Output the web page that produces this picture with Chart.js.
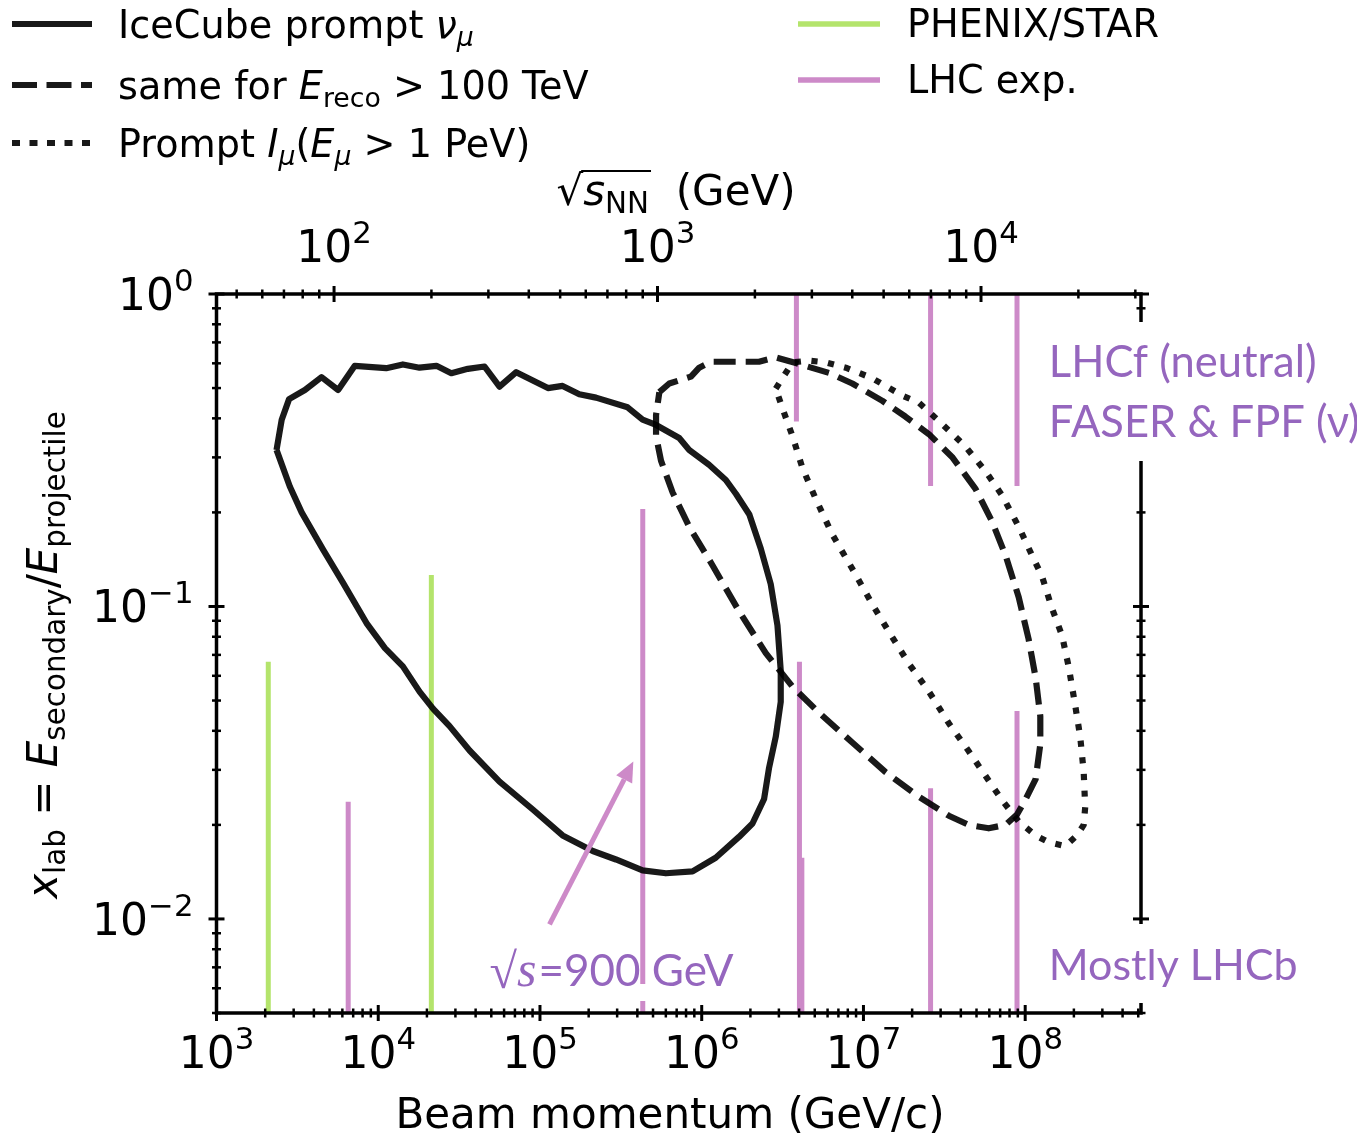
<!DOCTYPE html>
<html>
<head>
<meta charset="utf-8">
<script src="https://cdn.jsdelivr.net/npm/chart.js@4.4.1/dist/chart.umd.min.js"></script>
<style>
  html, body { margin: 0; padding: 0; background: #fff; }
  canvas { display: block; }
</style>
</head>
<body>
<canvas id="myChart" width="1357" height="1136"></canvas>
<script>
const ctx = document.getElementById('myChart').getContext('2d')

const M_P = 0.938 // proton mass in GeV, fixed target: sqrt(s) = sqrt(2 m p)
const toSqrtS = p => Math.sqrt(2 * M_P * p)

// axis ranges and ticks
const pRange = [1e3, 5.2e8]
const xlabRange = [0.005, 1]
const pTicks = [1e3, 1e4, 1e5, 1e6, 1e7, 1e8]
const pTickExp = ['3', '4', '5', '6', '7', '8']
const xlabTicks = [1, 0.1, 0.01]
const xlabTickExp = ['0', '\u22121', '\u22122']
const sTicks = [1e2, 1e3, 1e4]
const sTickExp = ['2', '3', '4']

// IceCube prompt nu_mu contour (beam momentum GeV/c, x_lab)
const icecubeP = [2350, 2530, 2810, 3520, 4460, 5650, 7160, 11200, 14200, 18000, 22900, 28300, 35800, 45400, 56200, 71300, 112000, 138000, 175000, 222000, 348000, 431000, 522000, 726000, 837000, 1.11e6, 1.41e6, 1.63e6, 1.97e6, 2.32e6, 2.67e6, 2.94e6, 3.08e6, 3.08e6, 2.87e6, 2.61e6, 2.43e6, 2.06e6, 1.70e6, 1.22e6, 878000, 601000, 431000, 295000, 212000, 138000, 90300, 56200, 36700, 27600, 21800, 18000, 14200, 11000, 8460, 6060, 4560, 3360, 2840, 2350]
const icecubeX = [0.317, 0.396, 0.461, 0.493, 0.542, 0.493, 0.589, 0.579, 0.595, 0.581, 0.589, 0.558, 0.576, 0.586, 0.505, 0.562, 0.500, 0.508, 0.478, 0.466, 0.434, 0.396, 0.381, 0.346, 0.317, 0.284, 0.254, 0.229, 0.197, 0.153, 0.118, 0.0869, 0.0623, 0.0495, 0.0383, 0.0305, 0.0242, 0.0202, 0.0183, 0.0157, 0.0142, 0.0140, 0.0143, 0.0155, 0.0165, 0.0185, 0.0224, 0.0275, 0.0346, 0.0414, 0.0471, 0.0534, 0.0643, 0.0736, 0.0885, 0.119, 0.152, 0.200, 0.242, 0.317]

// same, E_reco > 100 TeV
const recoP = [547000, 630000, 858000, 965000, 1.14e6, 2.26e6, 2.87e6, 3.82e6, 6.12e6, 8.53e6, 1.31e7, 1.82e7, 2.54e7, 3.53e7, 4.93e7, 6.24e7, 7.55e7, 9.12e7, 1.05e8, 1.16e8, 1.24e8, 1.24e8, 1.16e8, 1.00e8, 8.90e7, 7.55e7, 5.95e7, 4.48e7, 3.37e7, 2.20e7, 1.37e7, 8.53e6, 5.31e6, 3.64e6, 2.49e6, 1.70e6, 1.17e6, 837000, 660000, 560000, 522000, 522000, 547000]
const recoX = [0.485, 0.517, 0.544, 0.581, 0.607, 0.607, 0.627, 0.601, 0.559, 0.517, 0.455, 0.405, 0.356, 0.301, 0.238, 0.187, 0.146, 0.107, 0.0786, 0.0592, 0.0445, 0.0362, 0.0280, 0.0240, 0.0216, 0.0200, 0.0195, 0.0200, 0.0214, 0.0246, 0.0295, 0.0367, 0.0457, 0.0554, 0.0709, 0.0966, 0.135, 0.180, 0.232, 0.293, 0.351, 0.410, 0.485]

// prompt muon flux above 1 PeV
const muonP = [2.87e6, 3.64e6, 4.61e6, 5.85e6, 7.77e6, 1.13e7, 1.74e7, 2.20e7, 3.06e7, 4.27e7, 5.68e7, 7.19e7, 9.12e7, 1.10e8, 1.27e8, 1.46e8, 1.69e8, 1.86e8, 2.04e8, 2.19e8, 2.30e8, 2.35e8, 2.30e8, 2.09e8, 1.77e8, 1.40e8, 1.16e8, 9.12e7, 7.19e7, 5.68e7, 4.48e7, 3.37e7, 2.54e7, 1.91e7, 1.44e7, 1.13e7, 8.53e6, 6.42e6, 5.07e6, 4.19e6, 3.64e6, 3.15e6, 2.87e6]
const muonX = [0.498, 0.604, 0.612, 0.604, 0.581, 0.538, 0.473, 0.449, 0.384, 0.325, 0.271, 0.227, 0.180, 0.146, 0.125, 0.0991, 0.0807, 0.0639, 0.0481, 0.0382, 0.0295, 0.0228, 0.0200, 0.0185, 0.0171, 0.0176, 0.0185, 0.0205, 0.0240, 0.0287, 0.0344, 0.0423, 0.0534, 0.0656, 0.0828, 0.102, 0.132, 0.170, 0.221, 0.278, 0.351, 0.432, 0.498]

// experiment coverage: beam momentum, lower and upper x_lab
const rhicP = [2090, 21300]
const rhicLo = [0.005, 0.005]
const rhicHi = [0.0666, 0.126]
const lhcP = [6520, 432000, 3.85e6, 4.02e6, 4.16e6, 2.6e7, 2.6e7, 8.9e7, 8.9e7]
const lhcLo = [0.005, 0.005, 0.391, 0.005, 0.005, 0.243, 0.005, 0.243, 0.005]
const lhcHi = [0.0237, 0.205, 1, 0.0665, 0.0157, 1, 0.0262, 1, 0.0463]

const INK = 'rgba(0,0,0,0.9)'
const GREEN = 'rgb(180,228,108)'
const PINK = 'rgb(205,138,200)'
const PURPLE = 'rgb(149,102,190)'
const LW = 6.2
const DASH = [22, 10]
const DOT = [6.2, 10.5]

function contour(P, X, dash) {
  return {
    data: P.map((p, i) => ({ x: p, y: X[i] })),
    borderColor: INK, borderWidth: LW, borderDash: dash,
    borderCapStyle: 'butt', borderJoinStyle: 'round',
    pointRadius: 0, tension: 0, fill: false, order: 1
  }
}

function bars(P, lo, hi, color) {
  return P.map((p, i) => ({
    data: [{ x: p, y: lo[i] }, { x: p, y: hi[i] }],
    borderColor: color, borderWidth: 5, borderCapStyle: 'butt',
    pointRadius: 0, fill: false, order: 2
  }))
}

const datasets = [
  contour(icecubeP, icecubeX, []),
  contour(recoP, recoX, DASH),
  contour(muonP, muonX, DOT),
  ...bars(rhicP, rhicLo, rhicHi, GREEN),
  ...bars(lhcP, lhcLo, lhcHi, PINK)
]

// text with italics, sub- and superscripts, mathtext style
function rich(c, parts, x, y, fs, align, family) {
  family = family || '"DejaVu Sans"'
  const segs = parts.map(([t, f = '']) => {
    const small = f.includes('b') || f.includes('p')
    const size = small ? fs * 0.7 : fs
    const font = (f.includes('i') ? 'italic ' : '') + size + 'px ' + family
    c.font = font
    const dy = f.includes('b') ? fs * 0.2 : f.includes('p') ? -fs * 0.44 : 0
    return { t, font, dy, w: c.measureText(t).width }
  })
  const total = segs.reduce((s, g) => s + g.w, 0)
  let cx = align === 'center' ? x - total / 2 : align === 'right' ? x - total : x
  c.textAlign = 'left'
  c.textBaseline = 'alphabetic'
  for (const g of segs) {
    g.x = cx
    c.font = g.font
    c.fillText(g.t, cx, y + g.dy)
    cx += g.w
  }
  return segs
}

function line(c, x1, y1, x2, y2, w) {
  c.lineWidth = w
  c.beginPath()
  c.moveTo(x1, y1)
  c.lineTo(x2, y2)
  c.stroke()
}

const frame = {
  id: 'frame',
  afterDraw(chart) {
    const c = chart.ctx
    const a = chart.chartArea
    const xs = chart.scales.x, ys = chart.scales.y, ts = chart.scales.top
    c.save()
    c.strokeStyle = '#000'
    c.fillStyle = '#000'
    c.lineCap = 'butt'

    // spines
    c.lineWidth = 3.5
    c.strokeRect(a.left, a.top, a.right - a.left, a.bottom - a.top)

    // bottom ticks (beam momentum)
    for (let e = 3; e <= 8; e++) {
      for (let k = 1; k <= 9; k++) {
        const v = k * Math.pow(10, e)
        if (v > xs.max) break
        const px = xs.getPixelForValue(v)
        const h = k === 1 ? 8 : 4.5
        line(c, px, a.bottom - h, px, a.bottom + h, k === 1 ? 3 : 2.5)
      }
    }
    // left and right ticks (x_lab)
    for (let e = -3; e <= 0; e++) {
      for (let k = 1; k <= 9; k++) {
        const v = k * Math.pow(10, e)
        if (v < ys.min - 1e-9 || v > ys.max + 1e-9) continue
        const py = ys.getPixelForValue(v)
        const h = k === 1 ? 8 : 4.5
        const w = k === 1 ? 3 : 2.5
        line(c, a.left - h, py, a.left + h, py, w)
        line(c, a.right - h, py, a.right + h, py, w)
      }
    }
    // top ticks (sqrt s_NN)
    for (let e = 1; e <= 4; e++) {
      for (let k = 1; k <= 9; k++) {
        const v = k * Math.pow(10, e)
        if (v < ts.min || v > ts.max) continue
        const px = ts.getPixelForValue(v)
        const h = k === 1 ? 8 : 4.5
        line(c, px, a.top - h, px, a.top + h, k === 1 ? 3 : 2.5)
      }
    }

    // tick labels
    pTicks.forEach((v, i) => rich(c, [['10'], [pTickExp[i], 'p']], xs.getPixelForValue(v), 1068, 44, 'center'))
    xlabTicks.forEach((v, i) => rich(c, [['10'], [xlabTickExp[i], 'p']], a.left - 23, ys.getPixelForValue(v) + 16, 44, 'right'))
    sTicks.forEach((v, i) => rich(c, [['10'], [sTickExp[i], 'p']], ts.getPixelForValue(v), 262, 44, 'center'))

    // axis titles
    rich(c, [['Beam momentum (GeV/c)']], 670, 1128, 42, 'center')
    const st = rich(c, [['\u221A'], ['s', 'i'], ['NN', 'b'], ['  (GeV)']], 676, 205, 42, 'center')
    line(c, st[1].x - 2, 205 - 34, st[2].x + st[2].w + 2, 205 - 34, 2.2)
    c.save()
    c.translate(57, 655)
    c.rotate(-Math.PI / 2)
    rich(c, [['x', 'i'], ['lab', 'b'], [' = '], ['E', 'i'], ['secondary', 'b'], ['/'], ['E', 'i'], ['projectile', 'b']], 0, 0, 42, 'center')
    c.restore()

    // white boxes behind the purple notes
    c.fillStyle = '#fff'
    c.fillRect(1045, 322, 312, 139)
    c.fillRect(1045, 924, 260, 79)
    c.fillRect(488, 984, 248, 17)

    // notes
    c.fillStyle = PURPLE
    const nx = xs.getPixelForValue(1.4e8)
    rich(c, [['LHCf (neutral)']], nx, ys.getPixelForValue(0.543), 43.5, 'left', 'Lato')
    rich(c, [['FASER & FPF (\u03BD)']], nx, ys.getPixelForValue(0.349), 43.5, 'left', 'Lato')
    rich(c, [['Mostly LHCb']], nx, ys.getPixelForValue(0.0064), 43, 'left', 'Lato')
    const sx = xs.getPixelForValue(48800), sy = ys.getPixelForValue(0.00608)
    const r1 = rich(c, [['\u221A']], sx, sy + 2, 50, 'left', '"Liberation Serif"')
    const r2 = rich(c, [['s', 'i']], sx + r1[0].w, sy, 50, 'left', '"Liberation Serif"')
    rich(c, [['=900 GeV']], sx + r1[0].w + r2[0].w + 2, sy, 44, 'left', 'Lato')

    // arrow to the 900 GeV line
    const x1 = xs.getPixelForValue(114500), y1 = ys.getPixelForValue(0.0096)
    const x2 = xs.getPixelForValue(377700), y2 = ys.getPixelForValue(0.0319)
    const ang = Math.atan2(y2 - y1, x2 - x1)
    const L = 20, W = 9
    const bx = x2 - L * Math.cos(ang), by = y2 - L * Math.sin(ang)
    c.strokeStyle = PINK
    c.fillStyle = PINK
    line(c, x1, y1, bx, by, 5)
    c.beginPath()
    c.moveTo(x2, y2)
    c.lineTo(bx - W * Math.sin(ang), by + W * Math.cos(ang))
    c.lineTo(bx + W * Math.sin(ang), by - W * Math.cos(ang))
    c.closePath()
    c.fill()

    // legend
    c.strokeStyle = INK
    line(c, 12, 24, 92, 24, LW)
    c.setLineDash([25, 9.5])
    line(c, 12, 85, 92, 85, LW)
    c.setLineDash([8, 9.5])
    line(c, 12, 143, 92, 143, LW)
    c.setLineDash([])
    c.strokeStyle = GREEN
    line(c, 798, 24, 880, 24, 5.5)
    c.strokeStyle = PINK
    line(c, 798, 80, 880, 80, 5.5)

    c.fillStyle = '#000'
    rich(c, [['IceCube prompt '], ['\u03BD', 'i'], ['\u03BC', 'ib']], 118, 38, 38.2, 'left')
    rich(c, [['same for '], ['E', 'i'], ['reco', 'b'], [' > 100 TeV']], 118, 99, 38.2, 'left')
    rich(c, [['Prompt '], ['I', 'i'], ['\u03BC', 'ib'], ['('], ['E', 'i'], ['\u03BC', 'ib'], [' > 1 PeV)']], 118, 157, 38.2, 'left')
    rich(c, [['PHENIX/STAR']], 907, 37, 38.2, 'left')
    rich(c, [['LHC exp.']], 907, 93, 38.2, 'left')

    c.restore()
  }
}

const myChart = new Chart(ctx, {
  type: 'line',
  data: { datasets },
  options: {
    responsive: false,
    animation: false,
    layout: { padding: { left: 216.5, top: 294, right: 216, bottom: 123 } },
    scales: {
      x: { type: 'logarithmic', min: pRange[0], max: pRange[1], display: false },
      y: { type: 'logarithmic', min: xlabRange[0], max: xlabRange[1], display: false },
      top: { type: 'logarithmic', axis: 'x', position: 'top', min: toSqrtS(pRange[0]), max: toSqrtS(pRange[1]), display: false }
    },
    plugins: { legend: { display: false }, tooltip: { enabled: false } }
  },
  plugins: [frame]
})
</script>
</body>
</html>
